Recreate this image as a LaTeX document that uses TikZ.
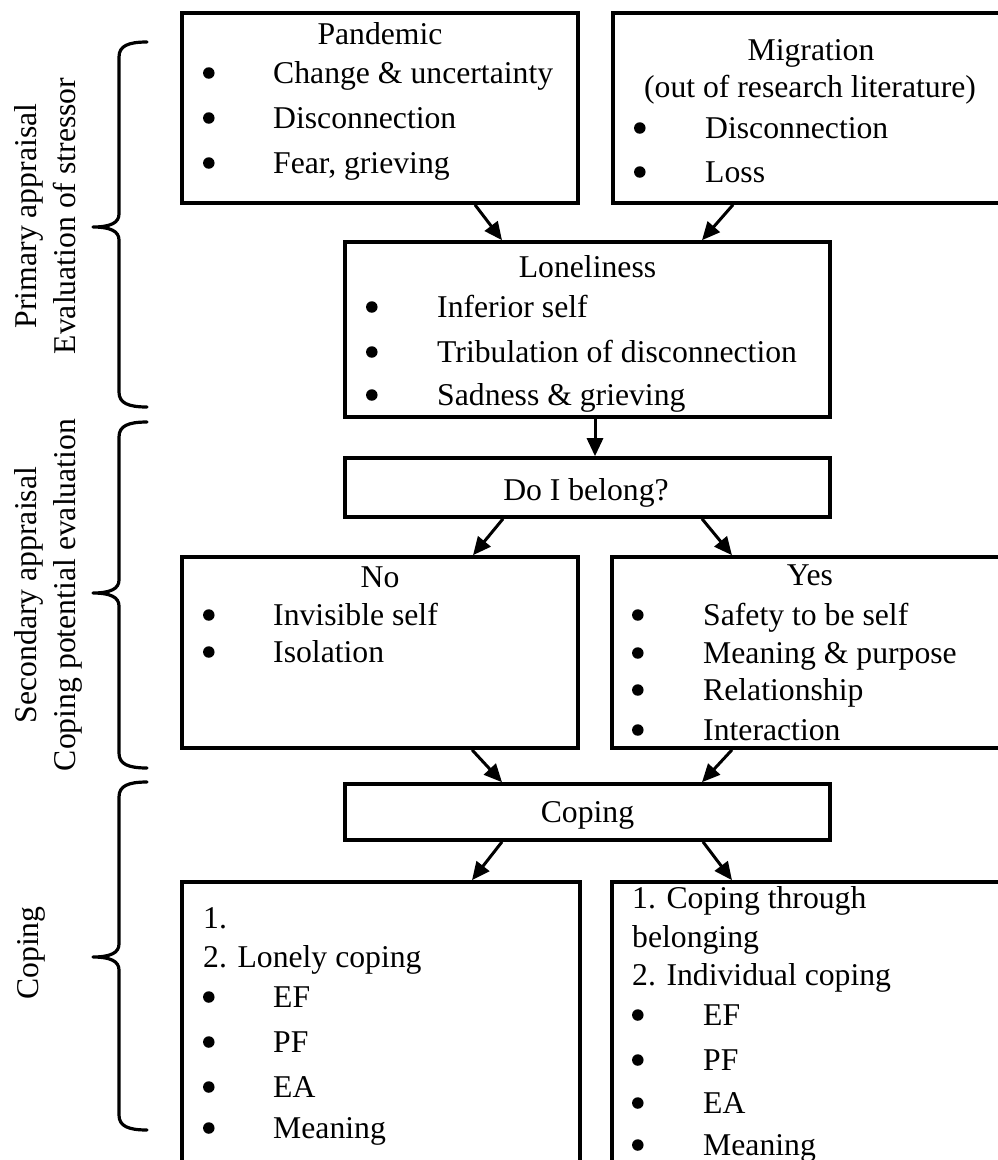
\documentclass[tikz,border=0pt]{standalone}
\usepackage{fontspec}
\setmainfont{Liberation Serif}
\usetikzlibrary{arrows.meta}

% a bullet line: round bullet whose left edge is at #2, text starting at #4, both on baseline #3
\newcommand\listline[5]{%
  \node[bulnode] (#1-b) at (#2+5.8,#3-10) {};
  \node[item] (#1) at (#4,#3) {#5};
}
% a left-hand curly brace: top end, tip and bottom end (y values)
\newcommand\sidebrace[3]{%
  \draw[bracestyle] (147,#1) .. controls (128,#1) and (119,#1+4) .. (119,#1+15)
    -- (119,#2-13) .. controls (119,#2-4) and (110,#2) .. (93,#2)
    .. controls (110,#2) and (119,#2+4) .. (119,#2+13)
    -- (119,#3-15) .. controls (119,#3-4) and (128,#3) .. (147,#3);
}

\begin{document}
\begin{tikzpicture}[x=1pt,y=-1pt,
  font=\fontsize{31.7pt}{38pt}\selectfont,
  box/.style={draw, rectangle, line width=3.6pt, inner sep=0pt},
  arr/.style={line width=3pt, -{Triangle[length=18pt,width=16pt]}},
  item/.style={inner sep=0pt, anchor=base west},
  bulnode/.style={circle, fill, inner sep=0pt, minimum size=11.5pt},
  head/.style={inner sep=0pt, anchor=base},
  sidelabel/.style={inner sep=0pt, anchor=base, rotate=90},
  bracestyle/.style={line width=3.2pt, line cap=round, line join=round}]

\useasboundingbox (0,0) rectangle (998,1160);
\clip (0,0) rectangle (998,1160);

% ---------- boxes ----------
\node[box, minimum width=396pt, minimum height=190pt] (pand) at (380,108) {};
\node[box, minimum width=397pt, minimum height=190pt] (migr) at (811.5,108) {};
\node[box, minimum width=485pt, minimum height=175pt] (lone) at (587.5,329.5) {};
\node[box, minimum width=485pt, minimum height=59pt]  (bel)  at (587.5,487.5) {};
\node[box, minimum width=396pt, minimum height=191pt] (no)   at (380,652.5) {};
\node[box, minimum width=398pt, minimum height=191pt] (yes)  at (811,652.5) {};
\node[box, minimum width=485pt, minimum height=56pt]  (cop)  at (587.5,812) {};
\node[box, minimum width=398pt, minimum height=318pt] (lc)   at (381,1041) {};
\node[box, minimum width=398pt, minimum height=318pt] (ic)   at (811,1041) {};

% ---------- texts ----------
\node[head] (pandh) at (380,44) {Pandemic};
\listline{p1}{203}{83}{273}{Change \& uncertainty}
\listline{p2}{203}{128}{273}{Disconnection}
\listline{p3}{203}{173}{273}{Fear, grieving}

\node[head] (migrh) at (811,60) {Migration};
\node[head] (migrs) at (810,97) {(out of research literature)};
\listline{m1}{634}{138}{705}{Disconnection}
\listline{m2}{634}{182}{705}{Loss}

\node[head] (loneh) at (587.5,277) {Loneliness};
\listline{l1}{366}{317}{437}{Inferior self}
\listline{l2}{366}{362}{437}{Tribulation of disconnection}
\listline{l3}{366}{405}{437}{Sadness \& grieving}

\node[head] (belh) at (586,500) {Do I belong?};

\node[head] (noh) at (380,587) {No};
\listline{n1}{203}{625}{273}{Invisible self}
\listline{n2}{203}{662}{273}{Isolation}

\node[head] (yesh) at (810,585) {Yes};
\listline{y1}{632}{625}{703}{Safety to be self}
\listline{y2}{632}{663}{703}{Meaning \& purpose}
\listline{y3}{632}{700}{703}{Relationship}
\listline{y4}{632}{740}{703}{Interaction}

\node[head] (coph) at (587.5,822) {Coping};

\node[item] (lc0) at (203,928) {1.};
\node[item] (lc1) at (203,967) {2. Lonely coping};
\listline{a1}{203}{1007}{273}{EF}
\listline{a2}{203}{1052}{273}{PF}
\listline{a3}{203}{1097}{273}{EA}
\listline{a4}{203}{1138}{273}{Meaning}

\node[item] (ic0) at (632,908) {1. Coping through};
\node[item] (ic1) at (632,947) {belonging};
\node[item] (ic2) at (632,985) {2. Individual coping};
\listline{b1}{632}{1025}{703}{EF}
\listline{b2}{632}{1070}{703}{PF}
\listline{b3}{632}{1113}{703}{EA}
\listline{b4}{632}{1155}{703}{Meaning}

% ---------- connectors ----------
\draw[arr] ([xshift=95pt]pand.south) -- ([xshift=-85.5pt]lone.north);
\draw[arr] ([xshift=-78.5pt]migr.south) -- ([xshift=114.5pt]lone.north);
\draw[arr] ([xshift=7.5pt]lone.south) -- ([xshift=7.5pt]bel.north);
\draw[arr] ([xshift=-84.5pt]bel.south) -- ([xshift=93pt]no.north);
\draw[arr] ([xshift=114.5pt]bel.south) -- ([xshift=-79pt]yes.north);
\draw[arr] ([xshift=92pt]no.south) -- ([xshift=-85.5pt]cop.north);
\draw[arr] ([xshift=-79pt]yes.south) -- ([xshift=114.5pt]cop.north);
\draw[arr] ([xshift=-85.5pt]cop.south) -- ([xshift=91pt]lc.north);
\draw[arr] ([xshift=115.5pt]cop.south) -- ([xshift=-79pt]ic.north);

% ---------- stage braces and labels ----------
\sidebrace{42}{227}{407}
\sidebrace{422}{593}{768}
\sidebrace{782}{957}{1130}

\node[sidelabel] (s1a) at (36,216) {Primary appraisal};
\node[sidelabel] (s1b) at (75,216) {Evaluation of stressor};
\node[sidelabel] (s2a) at (36,595) {Secondary appraisal};
\node[sidelabel] (s2b) at (75,595) {Coping potential evaluation};
\node[sidelabel] (s3a) at (38,953) {Coping};

\end{tikzpicture}
\end{document}
